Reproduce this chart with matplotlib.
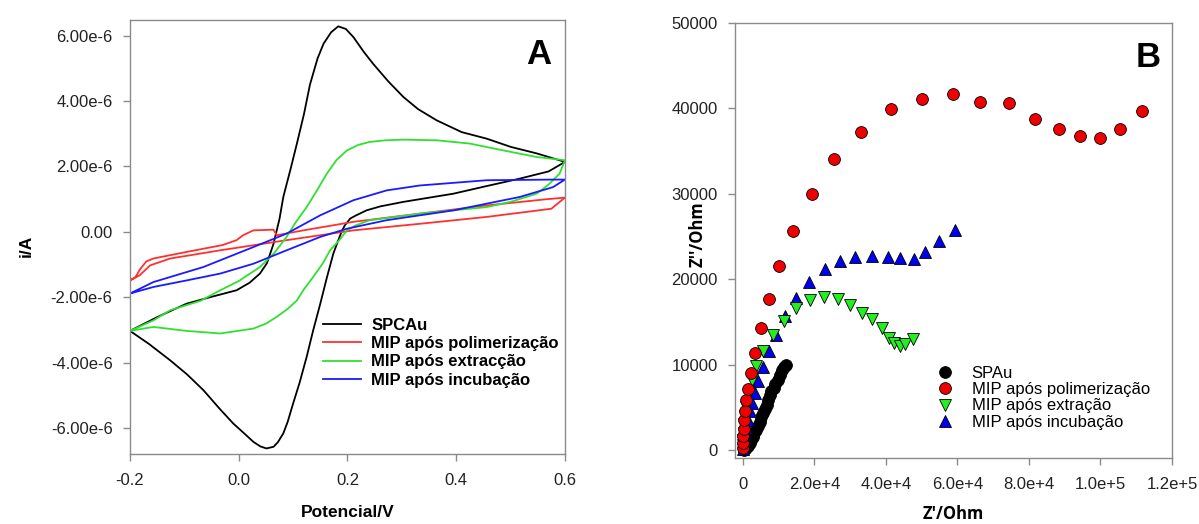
import matplotlib.pyplot as plt
import numpy as np

plt.rcParams['font.family'] = ['Liberation Sans', 'DejaVu Sans']

# ---- panel A: cyclic voltammograms (V, uA) ----
spc_v = [-0.2, -0.15, -0.096, -0.05, -0.004, 0.02, 0.039, 0.052, 0.064, 0.075, 0.082, 0.095,
         0.107, 0.12, 0.131, 0.145, 0.156, 0.17, 0.183, 0.197, 0.211, 0.23, 0.247, 0.275,
         0.303, 0.33, 0.364, 0.41, 0.456, 0.5, 0.548, 0.6,
         0.57, 0.517, 0.45, 0.395, 0.303, 0.26, 0.235, 0.215, 0.205, 0.195, 0.189, 0.182,
         0.174, 0.162, 0.150, 0.137, 0.125, 0.112, 0.1, 0.09, 0.082, 0.072, 0.064, 0.051,
         0.04, 0.027, 0.01, -0.01, -0.035, -0.065, -0.095, -0.126, -0.165, -0.2]
spc_i = [-3.02, -2.6, -2.19, -1.98, -1.78, -1.55, -1.27, -0.95, -0.36, 0.4, 1.07, 1.9,
         2.7, 3.6, 4.5, 5.3, 5.75, 6.1, 6.28, 6.2, 5.95, 5.5, 5.14, 4.6,
         4.12, 3.75, 3.41, 3.05, 2.85, 2.6, 2.4, 2.14,
         1.85, 1.63, 1.38, 1.17, 0.92, 0.78, 0.66, 0.5, 0.41, 0.2, 0.0, -0.3,
         -0.66, -1.4, -2.19, -3.0, -3.81, -4.6, -5.24, -5.8, -6.15, -6.42, -6.56, -6.61,
         -6.55, -6.41, -6.15, -5.85, -5.4, -4.83, -4.35, -3.92, -3.42, -3.02]

pol_v = [-0.2, -0.19, -0.182, -0.17, -0.157, -0.096, -0.03, -0.004, 0.008, 0.027, 0.064,
         0.07, 0.119, 0.211, 0.333, 0.456, 0.566, 0.6,
         0.575, 0.456, 0.333, 0.211, 0.088, -0.034, -0.126, -0.163, -0.182, -0.2]
pol_i = [-1.48, -1.38, -1.15, -0.9, -0.81, -0.61, -0.4, -0.25, -0.1, 0.05, 0.07,
         -0.1, 0.05, 0.31, 0.56, 0.81, 1.0, 1.05,
         0.71, 0.46, 0.25, 0.05, -0.25, -0.56, -0.81, -1.02, -1.32, -1.48]

ext_v = [-0.2, -0.157, -0.126, -0.07, -0.034, 0.0, 0.039, 0.065, 0.088, 0.105, 0.125, 0.145,
         0.162, 0.18, 0.199, 0.22, 0.241, 0.27, 0.303, 0.364, 0.425, 0.487, 0.548, 0.6,
         0.59, 0.57, 0.548, 0.5, 0.456, 0.333, 0.241, 0.215, 0.199, 0.185, 0.168, 0.155,
         0.137, 0.12, 0.107, 0.09, 0.07, 0.05, 0.027, -0.034, -0.096, -0.157, -0.2]
ext_i = [-3.02, -2.7, -2.39, -2.1, -1.78, -1.5, -1.07, -0.65, -0.15, 0.3, 0.76, 1.3,
         1.78, 2.2, 2.49, 2.66, 2.75, 2.8, 2.82, 2.80, 2.70, 2.49, 2.29, 2.19,
         1.78, 1.45, 1.17, 0.92, 0.76, 0.56, 0.36, 0.2, 0.05, -0.25, -0.56, -0.95,
         -1.37, -1.75, -2.09, -2.35, -2.59, -2.8, -2.95, -3.10, -3.02, -2.9, -3.02]

inc_v = [-0.2, -0.157, -0.065, 0.027, 0.088, 0.150, 0.211, 0.272, 0.333, 0.456, 0.578, 0.6,
         0.578, 0.517, 0.395, 0.272, 0.199, 0.150, 0.088, 0.027, -0.034, -0.096, -0.157, -0.2]
inc_i = [-1.88, -1.53, -1.07, -0.46, -0.05, 0.51, 0.97, 1.27, 1.42, 1.58, 1.60, 1.60,
         1.37, 1.07, 0.66, 0.36, 0.10, -0.15, -0.56, -0.97, -1.27, -1.48, -1.68, -1.88]

cv_labels = ['SPCAu', 'MIP após polimerização', 'MIP após extracção', 'MIP após incubação']
cv_yticks = [-6e-6, -4e-6, -2e-6, 0, 2e-6, 4e-6, 6e-6]
cv_yticklabels = ['-6.00e-6', '-4.00e-6', '-2.00e-6', '0.00', '2.00e-6', '4.00e-6', '6.00e-6']
cv_xticks = [-0.2, 0.0, 0.2, 0.4, 0.6]
cv_xticklabels = ['-0.2', '0.0', '0.2', '0.4', '0.6']

# ---- panel B: Nyquist plots (Ohm) ----
spau_zr = [200, 600, 1000, 1400, 1900, 2300, 2800, 3200, 3700, 4200, 4700, 5100, 5600,
           6100, 6700, 7100, 7500, 8000, 8600, 9100, 9700, 10300, 11000, 11600, 12100]
spau_zi = [0, 100, 200, 450, 780, 1150, 1560, 1950, 2350, 2850, 3320, 3800, 4300,
           4800, 5280, 5850, 6450, 6850, 7230, 7700, 8210, 8800, 9350, 9700, 9970]

pol_zr = [30, 80, 150, 250, 350, 500, 800, 1300, 2200, 3500, 5000, 7300, 10100, 14000,
          19200, 25500, 32900, 41400, 50100, 58800, 66200, 74400, 81600, 88300, 94200,
          100000, 105400, 111700]
pol_zi = [200, 800, 1600, 2500, 3500, 4600, 5900, 7160, 8990, 11340, 14270, 17710, 21580,
          25690, 29990, 34100, 37220, 39880, 41060, 41640, 40740, 40660, 38800, 37600, 36750,
          36560, 37600, 39690]

ext_zr = [30, 80, 150, 250, 400, 600, 900, 1600, 2500, 3700, 5500, 8400, 11600, 14900,
          18700, 22800, 26500, 30000, 33300, 36100, 38900, 40800, 42400, 44000, 45400, 47600]
ext_zi = [150, 600, 1200, 2000, 3000, 4000, 5080, 6650, 8210, 9850, 11610, 13490, 15050,
          16620, 17520, 17870, 17670, 17010, 16030, 15330, 14270, 13100, 12510, 12200, 12430,
          12980]

inc_zr = [50, 200, 400, 700, 1000, 1500, 2000, 2500, 3400, 4300, 5600, 7300, 9300, 11800,
          14800, 18400, 23000, 27200, 31400, 36200, 40500, 44000, 47800, 50800, 54800, 59200]
inc_zi = [100, 500, 1000, 1800, 2600, 3500, 4500, 5470, 6650, 8090, 9660, 11530, 13490,
          15720, 17790, 19670, 21230, 22090, 22560, 22760, 22600, 22440, 22370, 23230, 24520,
          25730]

eis_labels = ['SPAu', 'MIP após polimerização', 'MIP após extração', 'MIP após incubação']
eis_xticks = [0, 20000, 40000, 60000, 80000, 100000, 120000]
eis_xticklabels = ['0', '2.0e+4', '4.0e+4', '6.0e+4', '8.0e+4', '1.0e+5', '1.2e+5']
eis_yticks = [0, 10000, 20000, 30000, 40000, 50000]
eis_yticklabels = ['0', '10000', '20000', '30000', '40000', '50000']

fig = plt.figure(figsize=(11.99, 5.24), dpi=100)
axA = fig.add_axes([0.1084, 0.1336, 0.3628, 0.828])
axB = fig.add_axes([0.613, 0.1260, 0.3645, 0.830])

spine_col = '#8a8a8a'
for ax in (axA, axB):
    for s in ax.spines.values():
        s.set_color(spine_col)
        s.set_linewidth(1.0)
    ax.tick_params(direction='out', length=5, width=1, color=spine_col,
                   labelsize=12, labelcolor='#222222')
    ax.tick_params(axis='x', pad=9)
    ax.tick_params(axis='y', pad=7.5)

# panel A
lw = 1.3
axA.plot(np.array(spc_v), np.array(spc_i) * 1e-6, color='black', lw=lw, label=cv_labels[0])
axA.plot(np.array(pol_v), np.array(pol_i) * 1e-6, color='#ff3030', lw=lw, label=cv_labels[1])
axA.plot(np.array(ext_v), np.array(ext_i) * 1e-6, color='#30e030', lw=lw, label=cv_labels[2])
axA.plot(np.array(inc_v), np.array(inc_i) * 1e-6, color='#1a1aff', lw=lw, label=cv_labels[3])
axA.set_xlim(-0.2, 0.6)
axA.set_ylim(-6.78e-6, 6.47e-6)
axA.set_xticks(cv_xticks, cv_xticklabels)
axA.set_yticks(cv_yticks, cv_yticklabels)
axA.set_xlabel('Potencial/V', fontsize=12.5, fontweight='bold')
axA.xaxis.set_label_coords(0.5, -0.117)
axA.set_ylabel('i/A', fontsize=12.5, fontweight='bold')
axA.yaxis.set_label_coords(-0.222, 0.48)
axA.text(0.94, 0.92, 'A', transform=axA.transAxes, fontsize=25, fontweight='bold',
         ha='center', va='center')
axA.legend(loc='upper left', bbox_to_anchor=(0.444, 0.314), frameon=False,
           prop={'weight': 'bold', 'size': 12}, handlelength=2.3, handletextpad=0.6,
           labelspacing=0.2, borderpad=0, borderaxespad=0)

# panel B
ms = 8.5
mk = dict(markeredgecolor='black', markeredgewidth=0.6, linestyle='none', markersize=ms)
axB.plot(spau_zr, spau_zi, 'o', color='black', label=eis_labels[0], **mk)
axB.plot(inc_zr, inc_zi, '^', color='#0000ee', label=eis_labels[3], **mk)
axB.plot(ext_zr, ext_zi, 'v', color='#22ee22', label=eis_labels[2], **mk)
axB.plot(pol_zr, pol_zi, 'o', color='#ee0000', label=eis_labels[1], **mk)
axB.set_xlim(-2200, 120000)
axB.set_ylim(-950, 50000)
axB.set_xticks(eis_xticks, eis_xticklabels)
axB.set_yticks(eis_yticks, eis_yticklabels)
axB.set_xlabel("Z'/Ohm", fontsize=12, fontweight='bold', family=['Open Sans', 'DejaVu Sans'])
axB.xaxis.set_label_coords(0.5, -0.108)
axB.set_ylabel("Z''/Ohm", fontsize=12, fontweight='bold', family=['Open Sans', 'DejaVu Sans'])
axB.yaxis.set_label_coords(-0.066, 0.515)
axB.text(0.945, 0.92, 'B', transform=axB.transAxes, fontsize=25, fontweight='bold',
         ha='center', va='center')
h, l = axB.get_legend_handles_labels()
order = [0, 3, 2, 1]
axB.legend([h[i] for i in order], [l[i] for i in order], loc='upper left',
           bbox_to_anchor=(0.452, 0.212), frameon=False, prop={'size': 12},
           handlelength=1.5, handletextpad=0.85, labelspacing=0.08, borderpad=0,
           borderaxespad=0)

fig.savefig('out.png', dpi=100)
